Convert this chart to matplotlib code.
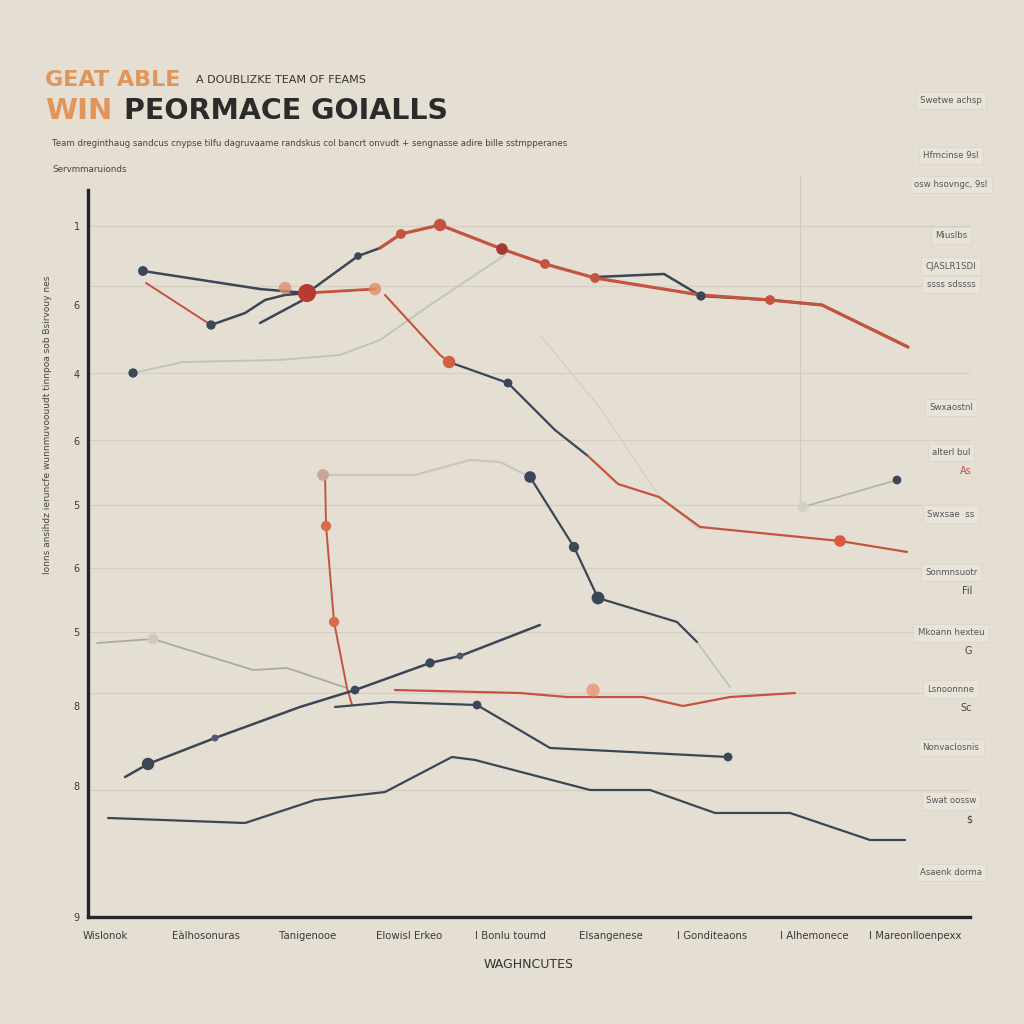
import matplotlib
matplotlib.use("Agg")
import matplotlib.pyplot as plt

BG = "#e5dfd3"
NAVY = "#3b4657"
RED = "#c4533f"
ORANGE = "#e08d6c"
GRAY = "#a9aaa2"
LIGHT = "#c2c4ba"

# ---- categories / ticks ----
categories = ["Wislonok", "Eàlhosonuras", "Tanigenooe", "Elowisl Erkeo", "I Bonlu toumd",
              "Elsangenese", "I Gonditeaons", "I Alhemonece", "I Mareonlloenpexx"]
ytick_vals = [9.505, 8.418, 7.469, 6.548, 5.667, 4.801, 3.920, 2.902, 1.802, 0.0]
ytick_labels = ["1", "6", "4", "6", "5", "6", "5", "8", "8", "9"]
grid_vals = [9.505, 8.680, 7.483, 6.561, 5.667, 4.801, 3.920, 3.081, 1.747]

# ---- series (x in category units, y in value units) ----
navy1_x = [0.375, 1.531, 1.995]
navy1_y = [8.886, 8.638, 8.583]
red1_x = [0.405, 1.047]
red1_y = [8.721, 8.143]
navy2_x = [1.047, 1.383, 1.580, 1.778, 1.995, 2.499, 2.716]
navy2_y = [8.143, 8.308, 8.487, 8.556, 8.583, 9.092, 9.202]
navyshort_x = [1.531, 1.956]
navyshort_y = [8.171, 8.487]
navytop_x = [4.840, 5.521, 5.886, 6.568, 7.081, 7.931]
navytop_y = [8.803, 8.845, 8.542, 8.487, 8.418, 7.840]
redtop_x = [2.716, 2.923, 3.309, 3.921, 4.346, 4.840, 5.877, 6.568, 7.081, 7.931]
redtop_y = [9.202, 9.395, 9.519, 9.188, 8.982, 8.790, 8.556, 8.487, 8.418, 7.840]
redmid_x = [1.995, 2.667]
redmid_y = [8.583, 8.638]
orange_pts_x = [1.778, 2.667]
orange_pts_y = [8.652, 8.638]
reddesc_x = [2.765, 3.309, 3.398]
reddesc_y = [8.556, 7.730, 7.634]
navydesc_x = [3.398, 3.980, 4.444, 4.770]
navydesc_y = [7.634, 7.345, 6.699, 6.341]
redlow_x = [4.770, 5.067, 5.472, 5.877, 7.259, 7.921]
redlow_y = [6.341, 5.956, 5.777, 5.365, 5.172, 5.021]
gray1_x = [0.277, 0.770, 1.728, 2.321, 2.716, 3.210, 3.951]
gray1_y = [7.483, 7.634, 7.662, 7.730, 7.937, 8.418, 9.106]
faint_x = [4.300, 4.890, 5.480, 5.880]
faint_y = [8.000, 7.000, 5.777, 5.320]
gray2_x = [2.153, 2.716, 3.062, 3.605, 3.901, 4.198]
gray2_y = [6.080, 6.080, 6.080, 6.286, 6.259, 6.052]
navy6_x = [4.198, 4.632, 4.869, 5.649, 5.847]
navy6_y = [6.052, 5.089, 4.388, 4.058, 3.783]
gray2end_x = [5.847, 6.173]
gray2end_y = [3.783, 3.164]
redvert_x = [2.173, 2.183, 2.262, 2.390, 2.440]
redvert_y = [6.080, 5.378, 4.058, 3.150, 2.916]
gray3_x = [-0.079, 0.474, 1.462, 1.798, 2.390]
gray3_y = [3.769, 3.824, 3.398, 3.425, 3.150]
navy3_x = [0.198, 0.425, 1.086, 1.926, 2.469, 3.210, 3.506, 4.296]
navy3_y = [1.926, 2.105, 2.462, 2.889, 3.122, 3.494, 3.590, 4.017]
navy4_x = [2.272, 2.815, 3.674, 4.395, 5.185, 6.153]
navy4_y = [2.889, 2.957, 2.916, 2.325, 2.270, 2.201]
redflat_x = [2.864, 4.099, 4.563, 5.314, 5.709, 6.173, 6.815]
redflat_y = [3.122, 3.081, 3.026, 3.026, 2.902, 3.026, 3.081]
navy5_x = [0.030, 1.383, 2.074, 2.765, 3.427, 3.654, 4.790, 5.383, 6.025, 6.765, 7.556, 7.901]
navy5_y = [1.362, 1.293, 1.609, 1.719, 2.201, 2.160, 1.747, 1.747, 1.431, 1.431, 1.059, 1.059]
grayright_x = [6.894, 7.822]
grayright_y = [5.640, 6.011]
vline_x = [6.864, 6.864]
vline_y = [5.600, 10.2]

legend_items = [
    (0.902, "Swetwe achsp", None), (0.848, "Hfmcinse 9sl", None), (0.820, "osw hsovngc, 9sl", None),
    (0.770, "Miuslbs", None), (0.740, "CJASLR1SDI", None), (0.722, "ssss sdssss", None),
    (0.602, "Swxaostnl", None), (0.558, "alterl bul", "As"),
    (0.498, "Swxsae  ss", None), (0.441, "Sonmnsuotr", "Fil"),
    (0.382, "Mkoann hexteu", "G"), (0.327, "Lsnoonnne", "Sc"),
    (0.270, "Nonvaclosnis", None), (0.218, "Swat oossw", "$"), (0.148, "Asaenk dorma", None),
]

fig = plt.figure(figsize=(10.24, 10.24), dpi=100, facecolor=BG)
ax = fig.add_axes([88/1024, 1-917/1024, (970-88)/1024, (917-190)/1024])
ax.set_facecolor(BG)
ax.set_xlim(-0.168, 8.543)
ax.set_ylim(0, 10)

for g in grid_vals:
    ax.axhline(g, color="#d6cec1", lw=0.9, zorder=0)
ax.plot(vline_x, vline_y, color="#d2cabd", lw=0.9, zorder=0, clip_on=False)

def line(x, y, c, lw=1.6, alpha=1.0, z=2):
    ax.plot(x, y, color=c, lw=lw, alpha=alpha, zorder=z, solid_capstyle="round")

def pts(x, y, c, s=45, alpha=1.0, z=4):
    ax.scatter(x, y, s=s, color=c, alpha=alpha, zorder=z, edgecolors="none")

# faint lines
line(gray1_x, gray1_y, LIGHT, lw=1.4)
line(faint_x, faint_y, "#d3ccc0", lw=0.9, z=1)
line(gray2_x, gray2_y, "#c9c6be", lw=1.6)
line(gray2end_x, gray2end_y, LIGHT, lw=1.3)
line(gray3_x, gray3_y, GRAY, lw=1.3)
line(grayright_x, grayright_y, "#b3b5ad", lw=1.3)

# main lines
line(navy1_x, navy1_y, NAVY, lw=1.8)
line(red1_x, red1_y, RED, lw=1.4)
line(navy2_x, navy2_y, NAVY, lw=1.8)
line(navyshort_x, navyshort_y, NAVY, lw=1.8)
line(navytop_x, navytop_y, NAVY, lw=1.8)
line(redtop_x, redtop_y, RED, lw=2.3, z=3)
line(redmid_x, redmid_y, RED, lw=2.0)
line(reddesc_x, reddesc_y, RED, lw=1.5)
line(navydesc_x, navydesc_y, NAVY, lw=1.6)
line(redlow_x, redlow_y, RED, lw=1.6)
line(navy6_x, navy6_y, NAVY, lw=1.6)
line(redvert_x, redvert_y, RED, lw=1.4)
line(navy3_x, navy3_y, NAVY, lw=1.8)
line(navy4_x, navy4_y, NAVY, lw=1.6)
line(redflat_x, redflat_y, RED, lw=1.6)
line(navy5_x, navy5_y, NAVY, lw=1.6)

# markers
pts([navy1_x[0]], [navy1_y[0]], NAVY, 50)
pts([navy2_x[0]], [navy2_y[0]], NAVY, 45)
pts([navy2_x[5]], [navy2_y[5]], NAVY, 30)
pts([redtop_x[1], redtop_x[4], redtop_x[5], redtop_x[7]], [redtop_y[1], redtop_y[4], redtop_y[5], redtop_y[7]], RED, 50)
pts([redtop_x[2]], [redtop_y[2]], RED, 80)
pts([redtop_x[3]], [redtop_y[3]], "#a33a33", 70)
pts([navytop_x[2]], [navytop_y[2]], NAVY, 45)
pts([redmid_x[0]], [redmid_y[0]], "#b83a34", 170, z=5)
pts(orange_pts_x, orange_pts_y, ORANGE, 80, alpha=0.8)
pts([reddesc_x[2]], [reddesc_y[2]], "#d0603f", 80)
pts([navydesc_x[1]], [navydesc_y[1]], NAVY, 40)
pts([redlow_x[4]], [redlow_y[4]], "#e0573d", 70)
pts([gray1_x[0]], [gray1_y[0]], NAVY, 45)
pts([gray2_x[0]], [gray2_y[0]], "#c9a59a", 70)
pts([navy6_x[0]], [navy6_y[0]], NAVY, 70)
pts([navy6_x[1]], [navy6_y[1]], NAVY, 55)
pts([navy6_x[2]], [navy6_y[2]], NAVY, 85)
pts(redvert_x[1:3], redvert_y[1:3], "#dc6a48", 55)
pts([gray3_x[1]], [gray3_y[1]], "#cfcac0", 60)
pts([navy3_x[1]], [navy3_y[1]], NAVY, 80)
pts([navy3_x[2], navy3_x[6]], [navy3_y[2], navy3_y[6]], "#4c5a6b", 25)
pts([navy3_x[5]], [navy3_y[5]], NAVY, 45)
pts([navy3_x[4]], [navy3_y[4]], NAVY, 40)
pts([navy4_x[2], navy4_x[5]], [navy4_y[2], navy4_y[5]], NAVY, 40)
pts([4.820], [3.122], "#e49a7a", 90, alpha=0.85)
pts([grayright_x[0]], [grayright_y[0]], "#d4d0c6", 60)
pts([grayright_x[1]], [grayright_y[1]], NAVY, 40)

# axes styling
for s in ["top", "right"]:
    ax.spines[s].set_visible(False)
for s in ["left", "bottom"]:
    ax.spines[s].set_color("#23252a")
    ax.spines[s].set_linewidth(2.4)
ax.set_xticks(range(len(categories)))
ax.set_xticklabels(categories, fontsize=7.3, color="#3a3a3a")
ax.set_yticks(ytick_vals)
ax.set_yticklabels(ytick_labels, fontsize=7, color="#3a3a3a")
ax.tick_params(length=0, pad=6)
ax.tick_params(axis="x", pad=10)
ax.set_xlabel("WAGHNCUTES", fontsize=9, color="#333333", labelpad=12)

# titles
fig.text(45/1024, 1-80/1024, "GEAT ABLE", fontsize=16, color="#e0955a", fontweight="bold", va="center", ha="left")
fig.text(196/1024, 1-80/1024, "A DOUBLIZKE TEAM OF FEAMS", fontsize=8, color="#333333", va="center", ha="left")
fig.text(45/1024, 1-111/1024, "WIN", fontsize=21, color="#e0955a", fontweight="bold", va="center", ha="left")
fig.text(124/1024, 1-111/1024, "PEORMACE GOIALLS", fontsize=20.5, color="#2b2b2b", fontweight="bold", va="center", ha="left")
fig.text(52/1024, 1-143/1024,
         "Team dreginthaug sandcus cnypse tilfu dagruvaame randskus col bancrt onvudt + sengnasse adire bille sstmpperanes",
         fontsize=6.2, color="#444444", va="center", ha="left")
fig.text(52/1024, 1-170/1024, "Servmmaruionds", fontsize=6.3, color="#444444", va="center", ha="left")
fig.text(48/1024, 1-425/1024, "Ionns ansihdz ieruncfe wunnmuvoouudt tinnpoa sob Bsirvouy nes",
         fontsize=6.5, color="#444444", rotation=90, va="center", ha="center")

# right side legend boxes
for yy, lab, extra in legend_items:
    fig.text(951/1024, yy, lab, fontsize=6.2, color="#555555", ha="center", va="center",
             bbox=dict(boxstyle="square,pad=0.5", fc="#e9e4da", ec="#ddd6ca", lw=0.6))
    if extra:
        fig.text(972/1024, yy - 0.018, extra, fontsize=7, color="#c4533f" if extra == "As" else "#444444",
                 ha="right", va="center")

fig.savefig("out.png", dpi=100, facecolor=BG)
